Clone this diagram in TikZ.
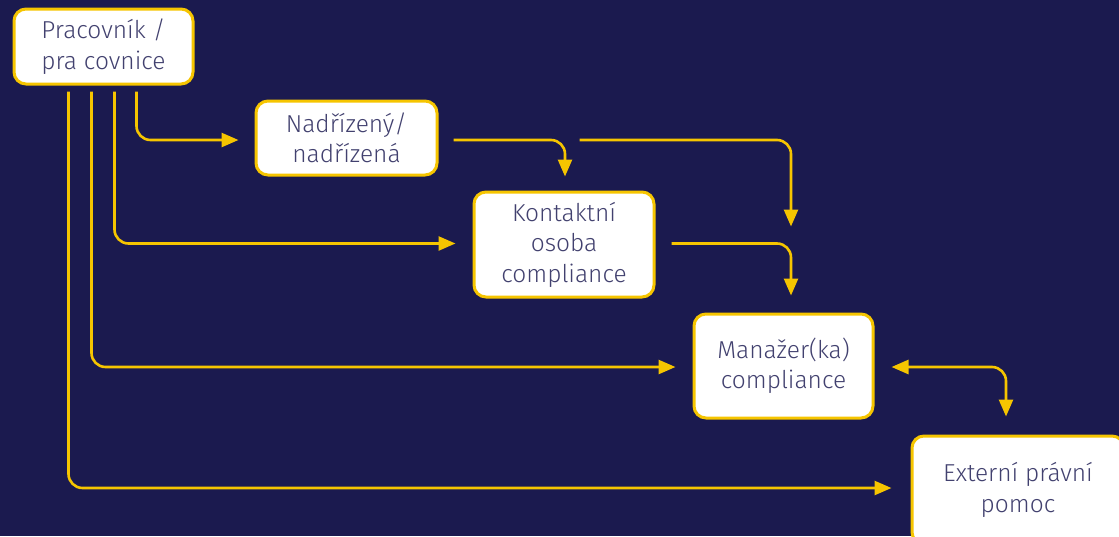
\documentclass[tikz,border=0pt]{standalone}
\usepackage{fontspec}
\setmainfont{Fira Sans Light}
\usetikzlibrary{arrows.meta,calc}
\definecolor{bg}{HTML}{1B1A4F}
\definecolor{ylw}{HTML}{F6C500}
\definecolor{txt}{HTML}{42416F}
\tikzset{
  box/.style={draw=ylw, line width=3pt, fill=white, rounded corners=12pt, align=center,
    text=txt, font=\fontsize{24.5}{30.5}\selectfont, inner sep=0pt},
  conn/.style={draw=ylw, line width=2.6pt, rounded corners=14pt},
  arr/.style={conn, -{Triangle[length=17pt,width=14pt]}},
  darr/.style={conn, {Triangle[length=17pt,width=14pt]}-{Triangle[length=17pt,width=14pt]}},
}
\begin{document}
\begin{tikzpicture}[x=1pt,y=-1pt]
\fill[bg] (0,0) rectangle (1119,536);
\useasboundingbox (0,0) rectangle (1119,536);
\node[box, minimum width=179pt, minimum height=75pt] (b1) at (103.5,46.5) {Pracovník /\\pra covnice};
\node[box, minimum width=181pt, minimum height=74pt] (b2) at (346.5,138) {Nadřízený/\\nadřízená};
\node[box, minimum width=180pt, minimum height=105pt] (b3) at (564,244.5) {Kontaktní\\osoba\\compliance};
\node[box, minimum width=179pt, minimum height=104pt] (b4) at (783.5,366) {Manažer(ka)\\compliance};
\node[box, minimum width=212pt, minimum height=108pt] (b5) at (1018,490) {Externí právní\\pomoc};
% from b1
\draw[arr] ($(b1.south west)+(124,6)$) |- ($(b2.west)+(-16,2)$);
\draw[arr] ($(b1.south west)+(102,6)$) |- ($(b3.west)+(-17,-1)$);
\draw[arr] ($(b1.south west)+(79,6)$) |- ($(b4.west)+(-17,1)$);
\draw[arr] ($(b1.south west)+(56,6)$) |- ($(b5.west)+(-19,-2)$);
% from b2
\draw[arr] ($(b2.east)+(15,2)$) -| ($(b3.north)+(1,-14)$);
\coordinate (split) at ($(b2.east)+(141,2)$);
\draw[arr] (split) -| ($(b4.north)+(7.5,-86)$);
% from b3
\draw[arr] ($(b3.east)+(16,-1)$) -| ($(b4.north)+(7.5,-17)$);
% b4 <-> b5
\draw[darr] ($(b4.east)+(17,1)$) -| ($(b5.north)+(-12,-18)$);
\end{tikzpicture}
\end{document}
